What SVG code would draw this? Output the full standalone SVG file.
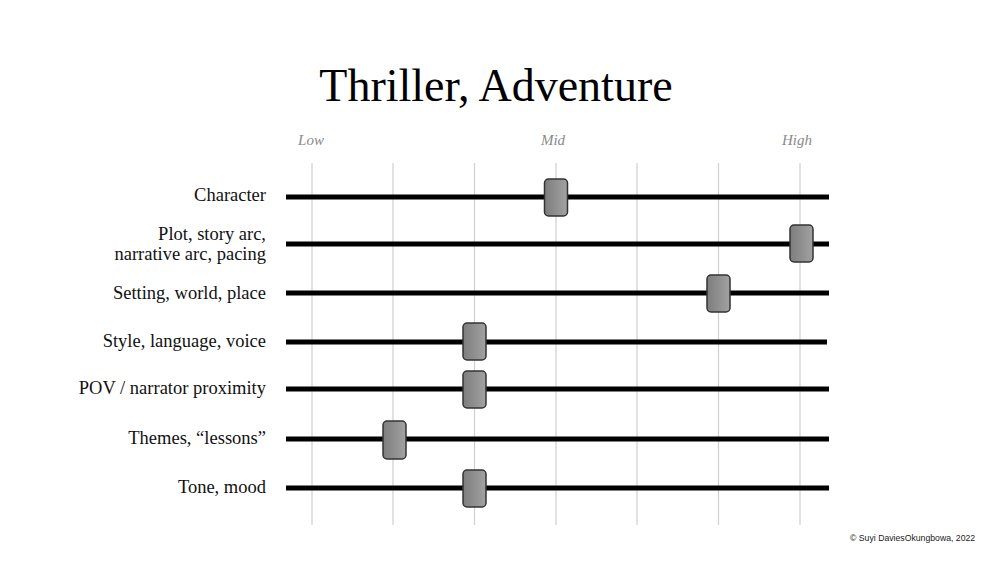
<svg xmlns="http://www.w3.org/2000/svg" width="1000" height="563" viewBox="0 0 1000 563">
<defs>
<linearGradient id="knobGrad" x1="0" y1="0" x2="1" y2="0">
<stop offset="0" stop-color="#7d7d7d"/>
<stop offset="1" stop-color="#a2a2a2"/>
</linearGradient>
</defs>
<style>
.grid{stroke:#cfcfcf;stroke-width:1.2}
.track{stroke:#000;stroke-width:5}
.knob{fill:url(#knobGrad);stroke:#333;stroke-width:1.5}
.lbl{font-family:"Liberation Serif","Times New Roman",serif;font-size:18.5px;fill:#111;text-anchor:end}
.scale{font-family:"Liberation Serif","Times New Roman",serif;font-size:15px;font-style:italic;fill:#8a8a8a;text-anchor:middle}
.title{font-family:"Liberation Serif","Times New Roman",serif;font-size:46px;fill:#000;text-anchor:middle}
.copy{font-family:"Liberation Sans",Arial,sans-serif;font-size:8.7px;fill:#222}
</style>
<rect width="1000" height="563" fill="#fff"/>
<text class="title" x="496" y="101">Thriller, Adventure</text>
<g id="scale">
<text class="scale" x="311" y="145">Low</text>
<text class="scale" x="553" y="145">Mid</text>
<text class="scale" x="797" y="145">High</text>
</g>
<g id="grid">
<line class="grid" x1="312" y1="163" x2="312" y2="525"/>
<line class="grid" x1="393" y1="163" x2="393" y2="525"/>
<line class="grid" x1="474.5" y1="163" x2="474.5" y2="525"/>
<line class="grid" x1="556" y1="163" x2="556" y2="525"/>
<line class="grid" x1="637" y1="163" x2="637" y2="525"/>
<line class="grid" x1="718.5" y1="163" x2="718.5" y2="525"/>
<line class="grid" x1="800" y1="163" x2="800" y2="525"/>
</g>
<g id="connectors">
<line class="track" x1="286" y1="197" x2="829" y2="197"/>
<line class="track" x1="286" y1="244" x2="829" y2="244"/>
<line class="track" x1="286" y1="293" x2="829" y2="293"/>
<line class="track" x1="286" y1="342" x2="827" y2="342"/>
<line class="track" x1="286" y1="389" x2="829" y2="389"/>
<line class="track" x1="286" y1="439" x2="829" y2="439"/>
<line class="track" x1="286" y1="488" x2="829" y2="488"/>
</g>
<g id="row-character">
<text class="lbl" x="266" y="201">Character</text>
<rect class="knob" x="544.5" y="179" width="23" height="37" rx="4"/>
</g>
<g id="row-plot">
<text class="lbl" x="266" y="240">Plot, story arc,</text>
<text class="lbl" x="266" y="260">narrative arc, pacing</text>
<rect class="knob" x="790" y="225" width="23" height="37" rx="4"/>
</g>
<g id="row-setting">
<text class="lbl" x="266" y="299">Setting, world, place</text>
<rect class="knob" x="707" y="275" width="23" height="37" rx="4"/>
</g>
<g id="row-style">
<text class="lbl" x="266" y="347">Style, language, voice</text>
<rect class="knob" x="463" y="323" width="23" height="37" rx="4"/>
</g>
<g id="row-pov">
<text class="lbl" x="266" y="394">POV / narrator proximity</text>
<rect class="knob" x="463" y="371" width="23" height="37" rx="4"/>
</g>
<g id="row-themes">
<text class="lbl" x="266" y="444">Themes, “lessons”</text>
<rect class="knob" x="383" y="421" width="23" height="38" rx="4"/>
</g>
<g id="row-tone">
<text class="lbl" x="266" y="493">Tone, mood</text>
<rect class="knob" x="463" y="470" width="23" height="37" rx="4"/>
</g>
<text class="copy" x="850" y="541">© Suyi DaviesOkungbowa, 2022</text>
</svg>
